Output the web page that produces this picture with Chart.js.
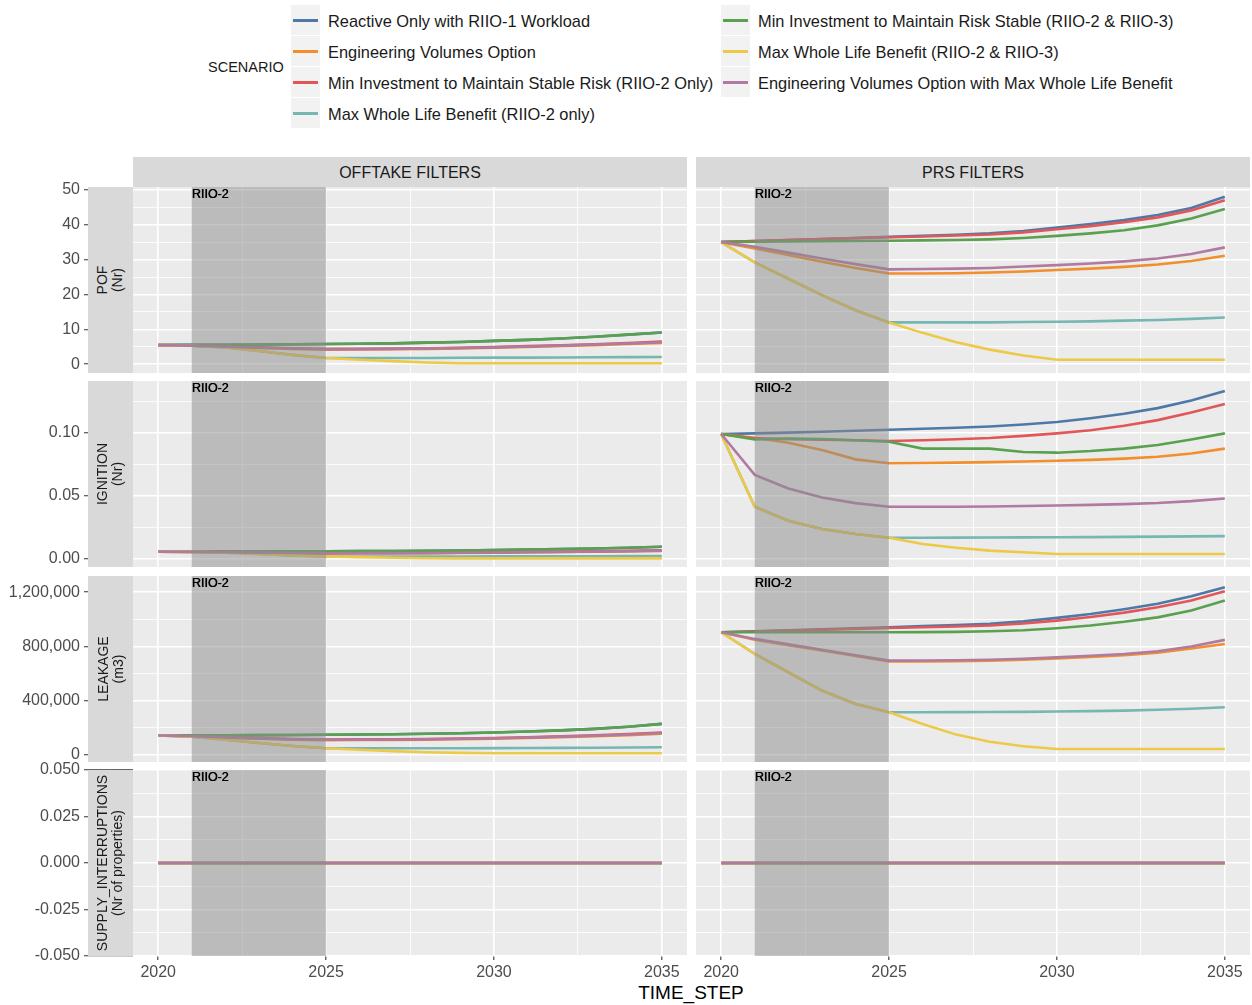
<!DOCTYPE html>
<html lang="en">
<head>
<meta charset="UTF-8" />
<title>Scenario risk by asset type</title>
<style>
  body { margin: 0; background: #fff; font-family: "Liberation Sans", Arial, sans-serif; }
  #page { position: relative; width: 1252px; height: 1005px; overflow: hidden; }
  canvas { position: absolute; }
  .strip { position: absolute; background: #d9d9d9; color: #1a1a1a; font-size: 16px;
           display: flex; align-items: center; justify-content: center; z-index: 2; }
  .vstrip span { transform: rotate(-90deg); white-space: nowrap; text-align: center;
                 font-size: 14px; line-height: 15px; }
  .key { position: absolute; width: 29px; height: 30px; background: #f2f2f2; }
  .keyline { position: absolute; left: 2px; right: 2px; top: 13.5px; height: 3px; }
  .ltext { position: absolute; height: 30px; line-height: 30px; font-size: 16.4px; color: #1a1a1a; white-space: nowrap; }
  .plain { position: absolute; white-space: nowrap; }
</style>
</head>
<body>
<div id="page"></div>

<script src="https://cdn.jsdelivr.net/npm/chart.js@4.4.1/dist/chart.umd.min.js"></script>
<script>
// ---- data ----
const years = [2020, 2021, 2022, 2023, 2024, 2025, 2026, 2027, 2028, 2029, 2030, 2031, 2032, 2033, 2034, 2035];

const scenarios = [
    "Reactive Only with RIIO-1 Workload",
    "Engineering Volumes Option",
    "Min Investment to Maintain Stable Risk (RIIO-2 Only)",
    "Max Whole Life Benefit (RIIO-2 only)",
    "Min Investment to Maintain Risk Stable (RIIO-2 & RIIO-3)",
    "Max Whole Life Benefit (RIIO-2 & RIIO-3)",
    "Engineering Volumes Option with Max Whole Life Benefit"
];
const colors = ["#4e79a7", "#f28e2b", "#e15759", "#76b7b2", "#59a14f", "#edc948", "#b07aa1"];

const columnNames = ["OFFTAKE FILTERS", "PRS FILTERS"];
const rowNames = [["POF", "(Nr)"], ["IGNITION", "(Nr)"], ["LEAKAGE", "(m3)"], ["SUPPLY_INTERRUPTIONS", "(Nr of properties)"]];

// series order follows scenarios
const offtakePof = [
    [5.5, 5.55, 5.6, 5.65, 5.7, 5.8, 5.9, 6.0, 6.2, 6.4, 6.7, 7.0, 7.4, 7.9, 8.5, 9.1],
    [5.5, 5.3, 5.0, 4.7, 4.4, 4.2, 4.25, 4.3, 4.4, 4.55, 4.75, 5.0, 5.25, 5.5, 5.8, 6.1],
    [5.5, 5.45, 5.2, 4.9, 4.6, 4.4, 4.45, 4.5, 4.6, 4.75, 4.95, 5.2, 5.45, 5.75, 6.1, 6.5],
    [5.5, 5.3, 4.8, 3.8, 2.7, 1.8, 1.8, 1.8, 1.8, 1.85, 1.9, 1.9, 1.95, 2.0, 2.05, 2.1],
    [5.5, 5.55, 5.6, 5.65, 5.7, 5.8, 5.9, 6.0, 6.2, 6.4, 6.7, 7.0, 7.4, 7.9, 8.5, 9.1],
    [5.5, 5.3, 4.8, 3.8, 2.7, 1.8, 1.3, 0.9, 0.5, 0.3, 0.3, 0.3, 0.3, 0.3, 0.3, 0.3],
    [5.5, 5.35, 5.05, 4.75, 4.5, 4.3, 4.35, 4.4, 4.5, 4.65, 4.85, 5.1, 5.35, 5.65, 5.95, 6.3]
];
const prsPof = [
    [35, 35.3, 35.6, 35.9, 36.2, 36.5, 36.8, 37.1, 37.5, 38.2, 39.2, 40.2, 41.3, 42.8, 44.8, 48.0],
    [35, 33.2, 31.3, 29.4, 27.6, 26.0, 26.0, 26.1, 26.3, 26.6, 27.0, 27.4, 27.9, 28.6, 29.6, 31.1],
    [35, 35.3, 35.6, 35.9, 36.2, 36.4, 36.6, 36.9, 37.2, 37.8, 38.7, 39.6, 40.7, 42.1, 44.1, 47.0],
    [35, 29.2, 24.5, 19.8, 15.5, 12.0, 12.0, 12.0, 12.0, 12.1, 12.2, 12.3, 12.5, 12.7, 13.0, 13.4],
    [35, 35.1, 35.2, 35.3, 35.35, 35.4, 35.5, 35.6, 35.8, 36.2, 36.8, 37.5, 38.4, 39.8, 41.8, 44.5],
    [35, 29.2, 24.5, 19.8, 15.5, 12.0, 9.0, 6.3, 4.2, 2.5, 1.3, 1.3, 1.3, 1.3, 1.3, 1.3],
    [35, 33.7, 32.0, 30.3, 28.7, 27.2, 27.3, 27.4, 27.6, 28.0, 28.4, 28.9, 29.5, 30.3, 31.6, 33.5]
];
const offtakeIgnition = [
    [0.0058, 0.0058, 0.0059, 0.0059, 0.0060, 0.0061, 0.0062, 0.0063, 0.0065, 0.0067, 0.0070, 0.0074, 0.0078, 0.0083, 0.0089, 0.0096],
    [0.0058, 0.0056, 0.0053, 0.0049, 0.0046, 0.0044, 0.0045, 0.0045, 0.0046, 0.0048, 0.0050, 0.0053, 0.0055, 0.0058, 0.0061, 0.0064],
    [0.0058, 0.0057, 0.0055, 0.0051, 0.0048, 0.0046, 0.0047, 0.0047, 0.0048, 0.0050, 0.0052, 0.0055, 0.0057, 0.0060, 0.0064, 0.0068],
    [0.0058, 0.0056, 0.0050, 0.0040, 0.0028, 0.0019, 0.0019, 0.0019, 0.0019, 0.0019, 0.0020, 0.0020, 0.0021, 0.0021, 0.0022, 0.0023],
    [0.0058, 0.0058, 0.0059, 0.0059, 0.0060, 0.0061, 0.0062, 0.0063, 0.0065, 0.0067, 0.0070, 0.0074, 0.0078, 0.0083, 0.0089, 0.0096],
    [0.0058, 0.0056, 0.0050, 0.0040, 0.0028, 0.0019, 0.0014, 0.0009, 0.0005, 0.0004, 0.0004, 0.0004, 0.0004, 0.0004, 0.0004, 0.0004],
    [0.0058, 0.0056, 0.0053, 0.0050, 0.0047, 0.0045, 0.0046, 0.0046, 0.0047, 0.0049, 0.0051, 0.0054, 0.0056, 0.0059, 0.0062, 0.0066]
];
const prsIgnition = [
    [0.099, 0.0995, 0.1001, 0.1008, 0.1016, 0.1024, 0.1032, 0.1040, 0.1050, 0.1065, 0.1085, 0.1115, 0.1150, 0.1195, 0.1255, 0.1330],
    [0.099, 0.0960, 0.0921, 0.0863, 0.0789, 0.0758, 0.0760, 0.0763, 0.0767, 0.0772, 0.0778, 0.0785, 0.0795, 0.0810, 0.0835, 0.0874],
    [0.099, 0.0955, 0.0950, 0.0945, 0.0940, 0.0935, 0.0940, 0.0948, 0.0958, 0.0975, 0.0995, 0.1020, 0.1055, 0.1100, 0.1160, 0.1228],
    [0.099, 0.0413, 0.0303, 0.0237, 0.0197, 0.0168, 0.0168, 0.0169, 0.0170, 0.0171, 0.0172, 0.0173, 0.0175, 0.0177, 0.0179, 0.0181],
    [0.099, 0.0947, 0.0953, 0.0950, 0.0940, 0.0929, 0.0874, 0.0874, 0.0874, 0.0847, 0.0842, 0.0855, 0.0874, 0.0903, 0.0947, 0.0995],
    [0.099, 0.0413, 0.0303, 0.0237, 0.0197, 0.0168, 0.0118, 0.0089, 0.0066, 0.0053, 0.0039, 0.0039, 0.0039, 0.0039, 0.0039, 0.0039],
    [0.099, 0.0666, 0.0558, 0.0487, 0.0442, 0.0413, 0.0413, 0.0414, 0.0416, 0.0419, 0.0423, 0.0428, 0.0434, 0.0443, 0.0458, 0.0479]
];
const offtakeLeakage = [
    [143000, 144000, 145000, 146000, 147500, 149000, 151000, 153000, 156000, 160000, 166000, 173000, 181000, 192000, 208000, 229000],
    [143000, 136000, 127000, 119000, 113000, 109000, 110000, 111000, 113000, 116000, 120000, 125000, 131000, 138000, 146000, 156000],
    [143000, 139000, 132000, 124000, 118000, 114000, 115000, 116000, 118000, 121000, 125000, 131000, 137000, 145000, 154000, 166000],
    [143000, 135000, 112000, 88000, 66000, 49000, 49000, 49000, 49000, 49000, 50000, 51000, 52000, 53000, 55000, 57000],
    [143000, 144000, 145000, 146000, 147500, 149000, 151000, 153000, 156000, 160000, 166000, 173000, 181000, 192000, 208000, 229000],
    [143000, 135000, 112000, 88000, 66000, 49000, 38000, 28000, 20000, 15000, 12000, 12000, 12000, 12000, 12000, 12000],
    [143000, 138000, 130000, 122000, 116000, 112000, 113000, 114000, 116000, 119000, 123000, 129000, 135000, 142000, 151000, 162000]
];
const prsLeakage = [
    [905000, 912000, 920000, 927000, 935000, 942000, 950000, 958000, 967000, 985000, 1011000, 1040000, 1075000, 1115000, 1170000, 1237000],
    [905000, 850000, 810000, 770000, 730000, 689000, 690000, 692000, 695000, 702000, 712000, 722000, 735000, 755000, 785000, 819000],
    [905000, 911000, 918000, 924000, 930000, 936000, 942000, 948000, 955000, 970000, 991000, 1017000, 1050000, 1090000, 1140000, 1208000],
    [905000, 745000, 610000, 475000, 376000, 315000, 315000, 316000, 317000, 318000, 320000, 323000, 327000, 333000, 341000, 352000],
    [905000, 905000, 905000, 905000, 905000, 905000, 906000, 908000, 912000, 920000, 935000, 955000, 982000, 1015000, 1065000, 1139000],
    [905000, 745000, 610000, 475000, 376000, 315000, 229000, 150000, 98000, 64000, 44000, 44000, 44000, 44000, 44000, 44000],
    [905000, 856000, 817000, 776000, 736000, 696000, 697000, 699000, 702000, 710000, 720000, 732000, 745000, 765000, 800000, 849000]
];
const supplyZero = [0, 0, 0, 0, 0, 0, 0, 0, 0, 0, 0, 0, 0, 0, 0, 0];
const offtakeSupply = [supplyZero, supplyZero, supplyZero, supplyZero, supplyZero, supplyZero, supplyZero];
const prsSupply = [supplyZero, supplyZero, supplyZero, supplyZero, supplyZero, supplyZero, supplyZero];

// RIIO-2 period shading
const riioPeriod = [2021, 2025];
const riioLabel = "RIIO-2";

// axes
const xRange = [2019.25, 2035.75];
const xTicks = [2020, 2025, 2030, 2035];
const xMinor = [2022.5, 2027.5, 2032.5];

const pofRange = [-2.5, 50.8];
const pofTicks = [0, 10, 20, 30, 40, 50];
const pofLabels = ["0", "10", "20", "30", "40", "50"];
const pofMinor = [5, 15, 25, 35, 45];

const ignitionRange = [-0.0064, 0.141];
const ignitionTicks = [0, 0.05, 0.10];
const ignitionLabels = ["0.00", "0.05", "0.10"];
const ignitionMinor = [0.025, 0.075, 0.125];

const leakageRange = [-52000, 1320000];
const leakageTicks = [0, 400000, 800000, 1200000];
const leakageLabels = ["0", "400,000", "800,000", "1,200,000"];
const leakageMinor = [200000, 600000, 1000000];

const supplyRange = [-0.05, 0.05];
const supplyTicks = [-0.05, -0.025, 0, 0.025, 0.05];
const supplyLabels = ["-0.050", "-0.025", "0.000", "0.025", "0.050"];
const supplyMinor = [-0.0375, -0.0125, 0.0125, 0.0375];

// ---- layout ----
const panelTops = [187, 381, 576, 770];
const panelH = 186;
const colLeft = [133, 696];
const colRight = [687, 1250];

const rowRanges = [pofRange, ignitionRange, leakageRange, supplyRange];
const rowTicks = [pofTicks, ignitionTicks, leakageTicks, supplyTicks];
const rowLabels = [pofLabels, ignitionLabels, leakageLabels, supplyLabels];
const rowMinor = [pofMinor, ignitionMinor, leakageMinor, supplyMinor];
const panelSeries = [
    [offtakePof, prsPof],
    [offtakeIgnition, prsIgnition],
    [offtakeLeakage, prsLeakage],
    [offtakeSupply, prsSupply]
];

Chart.defaults.font.family = "'Liberation Sans', Arial, sans-serif";
const page = document.getElementById('page');

function addDiv(cls, css, text) {
    const d = document.createElement('div');
    d.className = cls;
    Object.assign(d.style, css);
    if (text !== undefined) d.textContent = text;
    page.appendChild(d);
    return d;
}

// legend
addDiv('plain', { left: '208px', top: '59px', fontSize: '14.5px', color: '#1a1a1a' }, 'SCENARIO');
scenarios.forEach((name, i) => {
    const col = i < 4 ? 0 : 1;
    const row = i < 4 ? i : i - 4;
    const keyLeft = col === 0 ? 291 : 721;
    const top = 5 + row * 31;
    const key = addDiv('key', { left: keyLeft + 'px', top: top + 'px' });
    const line = document.createElement('div');
    line.className = 'keyline';
    line.style.background = colors[i];
    key.appendChild(line);
    addDiv('ltext', { left: (keyLeft + 37) + 'px', top: (top + 1) + 'px' }, name);
});

// strips
columnNames.forEach((name, c) => {
    addDiv('strip', { left: colLeft[c] + 'px', top: '157px', width: (colRight[c] - colLeft[c]) + 'px', height: '30px', paddingTop: '1px', boxSizing: 'border-box' }, name);
});
rowNames.forEach((lines, r) => {
    const s = addDiv('strip vstrip', { left: '88px', top: panelTops[r] + 'px', width: '45px', height: panelH + 'px' });
    const span = document.createElement('span');
    span.innerHTML = lines[0] + '<br>' + lines[1];
    s.appendChild(span);
});
addDiv('plain', { left: '691px', top: '982px', fontSize: '19px', color: '#000', transform: 'translateX(-50%)' }, 'TIME_STEP');

function near(list, v) {
    return list.findIndex(m => Math.abs(m - v) < 1e-9);
}

const panelPlugin = {
    id: 'panelBg',
    beforeDraw(chart) {
        const a = chart.chartArea, ctx = chart.ctx;
        ctx.save();
        ctx.fillStyle = '#ebebeb';
        ctx.fillRect(a.left, a.top, a.right - a.left, a.bottom - a.top);
        ctx.restore();
    },
    afterDatasetsDraw(chart) {
        const a = chart.chartArea, ctx = chart.ctx, xs = chart.scales.x;
        const x0 = xs.getPixelForValue(riioPeriod[0]);
        const x1 = xs.getPixelForValue(riioPeriod[1]);
        ctx.save();
        ctx.fillStyle = 'rgba(140,140,140,0.5)';
        ctx.fillRect(x0, a.top, x1 - x0, a.bottom - a.top);
        ctx.fillStyle = '#000';
        ctx.font = "12.5px 'Liberation Sans', Arial, sans-serif";
        ctx.textBaseline = 'top';
        ctx.textAlign = 'left';
        ctx.fillText(riioLabel, x0, a.top + 1);
        ctx.fillText(riioLabel, x0 + 0.4, a.top + 1);
        ctx.restore();
    }
};

function makePanel(r, c) {
    const bottomRow = r === 3;
    const padTop = 16;
    const padBottom = bottomRow ? 0 : 16;
    const axisH = bottomRow ? 34 : 0;
    const left = c === 0 ? 0 : colLeft[c];
    const width = colRight[c] - left;
    const top = panelTops[r] - padTop;
    const height = padTop + panelH + (bottomRow ? axisH : padBottom);

    const canvas = document.createElement('canvas');
    canvas.width = width;
    canvas.height = height;
    canvas.style.left = left + 'px';
    canvas.style.top = top + 'px';
    canvas.style.width = width + 'px';
    canvas.style.height = height + 'px';
    page.appendChild(canvas);

    const series = panelSeries[r][c];
    // ggplot draws later scenarios on top; Chart.js puts the first dataset on top
    const datasets = scenarios.map((name, i) => ({
        label: name,
        data: years.map((y, j) => ({ x: y, y: series[i][j] })),
        borderColor: colors[i],
        backgroundColor: colors[i],
        borderWidth: 2.6,
        pointRadius: 0,
        tension: 0,
        fill: false
    })).reverse();

    const yMaj = rowTicks[r], yMin = rowMinor[r], yLab = rowLabels[r];
    const yAll = yMaj.concat(yMin).sort((a, b) => a - b);
    const xAll = xTicks.concat(xMinor).sort((a, b) => a - b);

    new Chart(canvas, {
        type: 'line',
        data: { datasets },
        plugins: [panelPlugin],
        options: {
            responsive: false,
            animation: false,
            events: [],
            layout: { padding: { top: padTop, bottom: padBottom, left: 0, right: 0 } },
            plugins: { legend: { display: false }, tooltip: { enabled: false } },
            scales: {
                x: {
                    type: 'linear',
                    min: xRange[0],
                    max: xRange[1],
                    afterBuildTicks: s => { s.ticks = xAll.map(v => ({ value: v })); },
                    afterFit: s => { s.height = axisH; },
                    border: { display: false },
                    grid: {
                        color: '#ffffff',
                        lineWidth: ctx => (ctx.tick && near(xTicks, ctx.tick.value) >= 0) ? 1.6 : 0.8,
                        drawTicks: bottomRow,
                        tickLength: 4,
                        tickWidth: 1.1,
                        tickColor: ctx => (ctx.tick && near(xTicks, ctx.tick.value) >= 0) ? '#333333' : 'rgba(0,0,0,0)'
                    },
                    ticks: {
                        display: bottomRow,
                        autoSkip: false,
                        maxRotation: 0,
                        padding: 3,
                        color: '#4d4d4d',
                        font: { size: 16 },
                        callback: v => near(xTicks, v) >= 0 ? String(v) : ''
                    }
                },
                y: {
                    type: 'linear',
                    min: rowRanges[r][0],
                    max: rowRanges[r][1],
                    afterBuildTicks: s => { s.ticks = yAll.map(v => ({ value: v })); },
                    afterFit: s => { s.width = c === 0 ? colLeft[0] : 0; },
                    border: { display: false },
                    grid: {
                        color: '#ffffff',
                        lineWidth: ctx => (ctx.tick && near(yMaj, ctx.tick.value) >= 0) ? 1.6 : 0.8,
                        drawTicks: c === 0,
                        tickLength: 49,
                        tickWidth: 1.1,
                        tickColor: ctx => (ctx.tick && near(yMaj, ctx.tick.value) >= 0) ? '#333333' : 'rgba(0,0,0,0)'
                    },
                    ticks: {
                        display: c === 0,
                        autoSkip: false,
                        padding: 4,
                        color: '#4d4d4d',
                        font: { size: 16 },
                        callback: v => { const k = near(yMaj, v); return k >= 0 ? yLab[k] : ''; }
                    }
                }
            }
        }
    });
}

for (let r = 0; r < 4; r++) {
    for (let c = 0; c < 2; c++) makePanel(r, c);
}
</script>
</body>
</html>
